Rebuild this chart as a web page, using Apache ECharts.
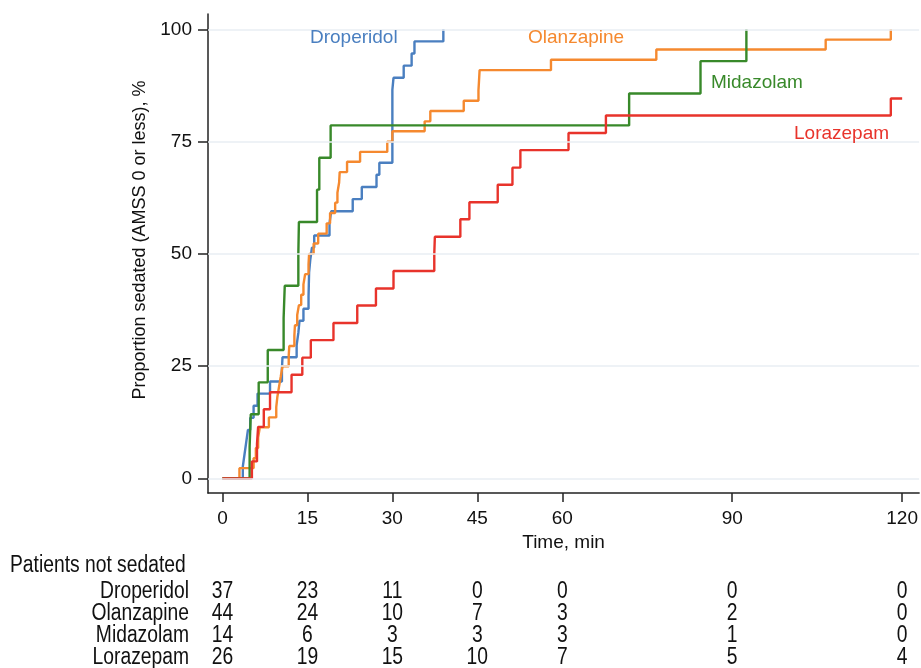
<!DOCTYPE html>
<html><head><meta charset="utf-8">
<script src="https://cdn.jsdelivr.net/npm/echarts@6/dist/echarts.min.js"></script>
<style>html,body{margin:0;padding:0;background:#fff}#c{width:921px;height:668px}</style>
</head><body><div id="c"></div>
<script>
// ---- data ----
const xTicks = [0, 15, 30, 45, 60, 90, 120];
const yTicks = [0, 25, 50, 75, 100];

const droperidolT = [0, 3.6, 3.9, 4.2, 4.5, 4.9, 5.5, 6.2, 8.4, 10.5, 10.6, 13.1, 13.4, 13.6, 14.3, 15.2, 15.25, 15.3, 15.5, 15.8, 16.2, 18.9, 19.2, 23.0, 24.6, 27.2, 27.7, 30.0, 30.2, 32.0, 33.4, 33.9, 39.0];
const droperidolP = [0, 2.7, 5.4, 8.1, 10.8, 13.5, 16.2, 18.9, 21.6, 24.3, 27.0, 29.7, 32.4, 35.1, 37.8, 40.5, 43.2, 45.9, 48.6, 51.4, 54.1, 56.8, 59.5, 62.2, 64.9, 67.6, 70.3, 86.5, 89.2, 91.9, 94.6, 97.3, 100];

const olanzapineT = [0, 3.0, 5.5, 5.9, 6.3, 6.6, 8.2, 9.5, 9.7, 10.0, 10.3, 10.6, 11.7, 11.8, 12.7, 12.8, 13.2, 13.5, 13.9, 14.3, 14.6, 15.2, 15.3, 16.1, 16.9, 18.4, 19.0, 19.9, 20.3, 20.6, 20.7, 22.0, 24.3, 29.1, 30.0, 35.7, 36.7, 42.6, 45.2, 45.3, 45.4, 58.0, 76.6, 106.5, 118];
const olanzapineP = [0, 2.3, 4.5, 6.8, 9.1, 11.4, 13.6, 15.9, 18.2, 20.5, 22.7, 25.0, 27.3, 29.5, 31.8, 34.1, 36.4, 38.6, 40.9, 43.2, 45.5, 47.7, 50.0, 52.3, 54.5, 56.8, 59.1, 61.4, 63.6, 65.9, 68.2, 70.5, 72.7, 75.0, 77.3, 79.5, 81.8, 84.1, 86.4, 88.6, 90.9, 93.2, 95.5, 97.7, 100];

const midazolamT = [0, 4.8, 5.0, 6.4, 8.0, 10.8, 11.0, 13.4, 13.5, 16.7, 17.1, 19.1, 71.8, 84.4, 92.5];
const midazolamP = [0, 7.1, 14.3, 21.4, 28.6, 35.7, 42.9, 50.0, 57.1, 64.3, 71.4, 78.6, 85.7, 92.9, 100];

const lorazepamT = [0, 5.2, 6.1, 6.3, 7.3, 8.4, 12.2, 14.1, 15.6, 19.6, 23.8, 27.1, 30.2, 37.4, 37.5, 42.0, 43.6, 48.6, 51.2, 52.6, 61.1, 67.7, 118, 120];
const lorazepamP = [0, 3.8, 7.7, 11.5, 15.4, 19.2, 23.1, 26.9, 30.8, 34.6, 38.5, 42.3, 46.2, 50.0, 53.8, 57.7, 61.5, 65.4, 69.2, 73.1, 76.9, 80.8, 84.6, 84.6];

const groupNames = ['Droperidol', 'Olanzapine', 'Midazolam', 'Lorazepam'];
const droperidolRisk = [37, 23, 11, 0, 0, 0, 0];
const olanzapineRisk = [44, 24, 10, 7, 3, 2, 0];
const midazolamRisk = [14, 6, 3, 3, 3, 1, 0];
const lorazepamRisk = [26, 19, 15, 10, 7, 5, 4];

// ---- styling / layout ----
const colors = ['#4a7fc0', '#f5892f', '#38892a', '#e8332b'];
const FONT = "'Liberation Sans', Arial, Helvetica, sans-serif";
const xMin = -2.55, xMax = 123.0, yMin = -3.23, yMax = 103.4;
const gridLeft = 208, gridTop = 14, gridBottomY = 493;
const riskRows = [droperidolRisk, olanzapineRisk, midazolamRisk, lorazepamRisk];
const rowY = [592, 614, 636, 658];
const TABLE_SIZE = 23.5, TABLE_SX = 0.82;

const zip = (t, p) => t.map((v, i) => [v, p[i]]);
const seriesT = [droperidolT, olanzapineT, midazolamT, lorazepamT];
const seriesP = [droperidolP, olanzapineP, midazolamP, lorazepamP];

const chart = echarts.init(document.getElementById('c'), null, { renderer: 'canvas' });

const series = [{
  type: 'line', data: [], silent: true, z: 1,
  markLine: {
    silent: true, symbol: 'none', label: { show: false },
    lineStyle: { color: '#e9eef3', width: 1.5, type: 'solid' },
    data: yTicks.map(v => ({ yAxis: v }))
  }
}].concat(seriesT.map((t, i) => ({
  type: 'line', name: groupNames[i], step: 'end', data: zip(t, seriesP[i]),
  showSymbol: false, symbol: 'none', z: 3, animation: false,
  lineStyle: { color: colors[i], width: 2.4 }
})));

chart.setOption({
  animation: false,
  backgroundColor: '#fff',
  grid: { left: gridLeft, top: gridTop, right: 0, bottom: 668 - gridBottomY, containLabel: false },
  xAxis: {
    type: 'value', min: xMin, max: xMax, position: 'bottom',
    name: 'Time, min', nameLocation: 'middle', nameGap: 37,
    nameTextStyle: { color: '#111', fontSize: 19, fontFamily: FONT },
    axisLine: { show: true, onZero: false, lineStyle: { color: '#222', width: 1.5 } },
    axisTick: { show: true, customValues: xTicks, length: 9, lineStyle: { color: '#222', width: 1.5 } },
    axisLabel: { customValues: xTicks, margin: 16, color: '#111', fontSize: 19, fontFamily: FONT },
    splitLine: { show: false }
  },
  yAxis: {
    type: 'value', min: yMin, max: yMax,
    axisLine: { show: true, onZero: false, lineStyle: { color: '#222', width: 1.5 } },
    axisTick: { show: true, customValues: yTicks, length: 10, lineStyle: { color: '#222', width: 1.5 } },
    axisLabel: { customValues: yTicks, margin: 16, color: '#111', fontSize: 19, fontFamily: FONT },
    splitLine: { show: false }
  },
  series
});

const txt = (text, x, y, color, opts = {}) => ({
  type: 'text', x, y, silent: true, z: 100,
  rotation: opts.rotation || 0,
  scaleX: opts.sx || 1,
  style: { text, fill: color, font: (opts.size || 19) + 'px ' + FONT, align: opts.align || 'left', verticalAlign: 'middle' }
});

// at-risk table: x positions come from the x axis scale
const tickPx = xTicks.map(v => chart.convertToPixel({ xAxisIndex: 0 }, v));
const tableOpts = { size: TABLE_SIZE, sx: TABLE_SX };

let graphics = [
  txt('Droperidol', 310, 38, colors[0]),
  txt('Olanzapine', 528, 38, colors[1]),
  txt('Midazolam', 711, 83, colors[2]),
  txt('Lorazepam', 794, 134, colors[3]),
  txt('Proportion sedated (AMSS 0 or less), %', 140, 240, '#111', { rotation: Math.PI / 2, align: 'center', size: 18 }),
  txt('Patients not sedated', 10, 566, '#111', tableOpts)
];
groupNames.forEach((n, i) => {
  graphics.push(txt(n, 189, rowY[i], '#111', Object.assign({ align: 'right' }, tableOpts)));
  riskRows[i].forEach((v, k) => graphics.push(txt(String(v), tickPx[k], rowY[i], '#111', Object.assign({ align: 'center' }, tableOpts))));
});

chart.setOption({ graphic: graphics });
</script>
</body></html>
